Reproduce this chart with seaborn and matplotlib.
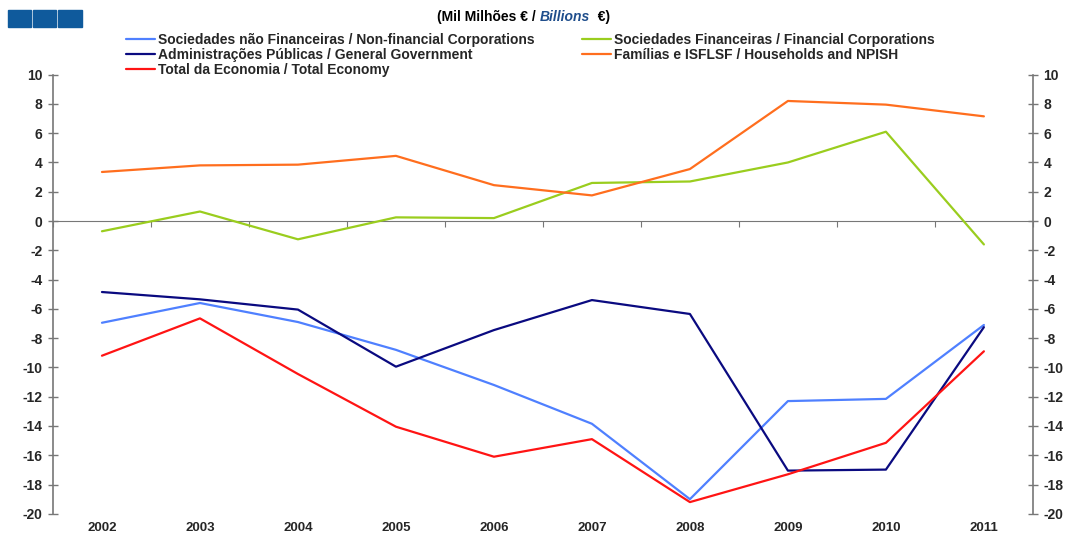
import numpy as np
import pandas as pd
import matplotlib
matplotlib.use("Agg")
import matplotlib.pyplot as plt
import seaborn as sns
from matplotlib.patches import Rectangle

years = [2002, 2003, 2004, 2005, 2006, 2007, 2008, 2009, 2010, 2011]
non_financial = [-6.95, -5.6, -6.9, -8.8, -11.2, -13.85, -19.0, -12.3, -12.15, -7.1]
financial = [-0.7, 0.65, -1.25, 0.25, 0.2, 2.6, 2.7, 4.0, 6.1, -1.6]
general_gov = [-4.85, -5.35, -6.05, -9.95, -7.45, -5.4, -6.35, -17.05, -16.98, -7.25]
households = [3.35, 3.8, 3.85, 4.45, 2.45, 1.75, 3.55, 8.2, 7.95, 7.15]
total = [-9.2, -6.65, -10.45, -14.05, -16.1, -14.9, -19.2, -17.3, -15.15, -8.9]

labels = {
    "nf": "Sociedades não Financeiras / Non-financial Corporations",
    "gg": "Administrações Públicas / General Government",
    "tot": "Total da Economia / Total Economy",
    "fin": "Sociedades Financeiras / Financial Corporations",
    "hh": "Famílias e ISFLSF / Households and NPISH",
}
colors = {"nf": "#4F80FF", "gg": "#0A0A80", "tot": "#FF1414",
          "fin": "#9ACD1E", "hh": "#FF6E1E"}

series = {"nf": non_financial, "gg": general_gov, "tot": total,
          "fin": financial, "hh": households}
df = pd.concat([pd.DataFrame({"year": years, "value": v, "sector": labels[k]})
                for k, v in series.items()])

sns.set_style("white")
plt.rcParams["font.family"] = ["Liberation Sans", "DejaVu Sans"]
plt.rcParams["axes.unicode_minus"] = False

fig = plt.figure(figsize=(10.81, 5.33), dpi=100)
ax = fig.add_axes([0.049, 0.036, 0.9065, 0.824])

sns.lineplot(data=df, x="year", y="value", hue="sector",
             hue_order=[labels[k] for k in series],
             palette=[colors[k] for k in series], linewidth=1.6, ax=ax)

ax.set_xlim(2001.5, 2011.5)
ax.set_ylim(-20, 10)
ax.set_yticks(np.arange(-20, 11, 2))
ax.set_xticks(years)
ax.set_xticklabels([str(y) for y in years], fontweight="bold", fontsize=9.5)
ax.tick_params(axis="x", length=0, pad=6)
ax.tick_params(axis="y", direction="inout", length=7, width=1, color="#777777",
               left=True, right=True, labelleft=True, labelright=True,
               labelsize=10, pad=4)
for t in ax.yaxis.get_major_ticks():
    t.label1.set_fontweight("bold")
    t.label2.set_fontweight("bold")
ax.set_xlabel("")
ax.set_ylabel("")
for s in ["top", "bottom"]:
    ax.spines[s].set_visible(False)
for s in ["left", "right"]:
    ax.spines[s].set_color("#777777")
    ax.spines[s].set_linewidth(1.2)

# zero line with category boundary ticks
zx = ax.secondary_xaxis(2 / 3)
zx.set_xticks(np.arange(2001.5, 2012, 1))
zx.tick_params(direction="in", length=4, color="#777777", labelbottom=False,
               labeltop=False)
zx.spines["bottom"].set_color("#777777")
zx.spines["bottom"].set_linewidth(1.2)
zx.spines["top"].set_color("#777777")

h, l = ax.get_legend_handles_labels()
ax.legend(h, l, ncol=2, loc="upper left", bbox_to_anchor=(0.069, 1.108),
          frameon=False, handlelength=2.1, handletextpad=0.2,
          labelspacing=0.09, columnspacing=3.4, borderaxespad=0,
          prop={"weight": "bold", "size": 10})

# title in pieces, placed one after the other
fig.canvas.draw()
r = fig.canvas.get_renderer()
parts = [("(Mil Milhões € / ", "normal", "black"),
         ("Billions", "italic", "#1F4E8C"),
         ("  €)", "normal", "black")]
x = 437 / 1081
for txt, style, col in parts:
    t = fig.text(x, 1 - 17 / 533, txt, ha="left", va="center", fontsize=10,
                 fontweight="bold", fontstyle=style, color=col)
    bb = t.get_window_extent(r)
    x += bb.width / fig.bbox.width

for i in range(3):
    fig.patches.append(Rectangle((0.0075 + i * 0.0232, 0.949), 0.0215, 0.032,
                                 transform=fig.transFigure, color="#0F5A9C"))

fig.savefig("out.png", dpi=100)
